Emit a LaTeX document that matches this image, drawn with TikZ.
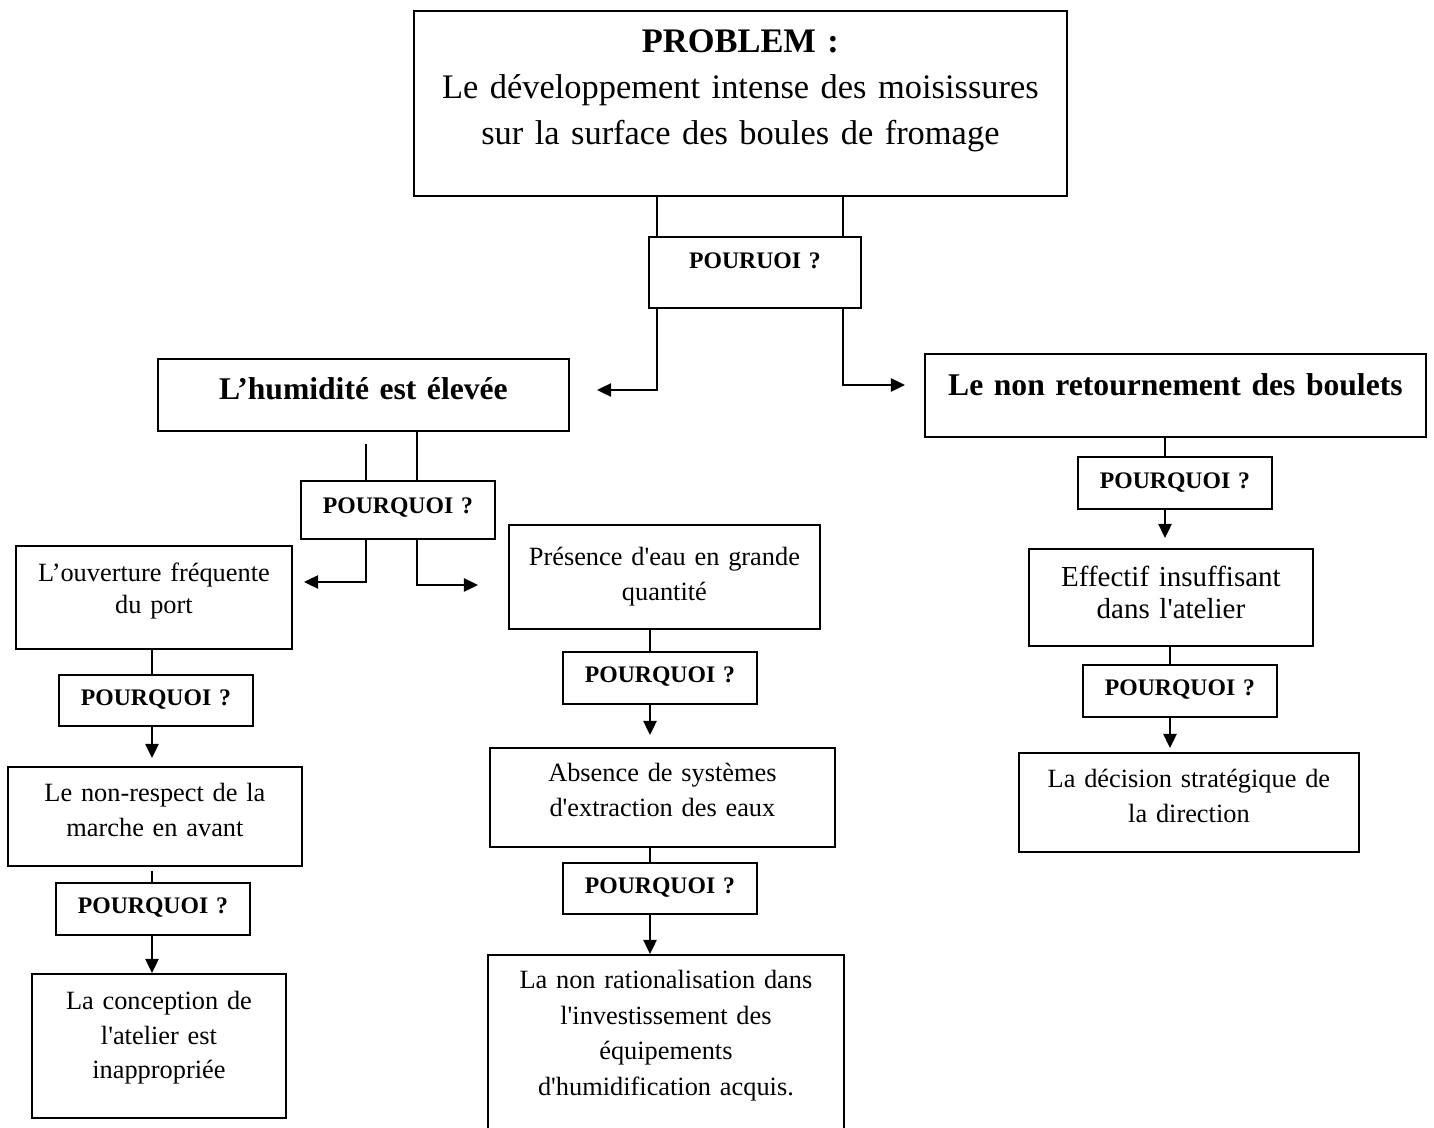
\documentclass[tikz,border=0pt]{standalone}
\usepackage{fontspec}
\setmainfont{Liberation Serif}[Ligatures=TeXOff]
\usetikzlibrary{arrows.meta}

\newcommand\fprob{\fontsize{19.6}{26}\selectfont}
\newcommand\fhead{\fontsize{18}{21}\selectfont\bfseries}
\newcommand\fpq{\fontsize{13.5}{16}\selectfont\bfseries}
\newcommand\fcause{\fontsize{15}{19.5}\selectfont}
\newcommand\fcauseL{\fontsize{15}{18.1}\selectfont}
\newcommand\fcauseW{\fontsize{15}{20.2}\selectfont}
\newcommand\feff{\fontsize{16.5}{18.1}\selectfont}

\begin{document}
\begin{tikzpicture}[
  x=0.02cm, y=-0.02cm,
  box/.style={draw,line width=1.1pt,anchor=north west,align=center,inner xsep=0pt,inner ysep=0pt},
  pq/.style={box,font=\fpq,text width=3.88cm},
  link/.style={line width=1.1pt},
  arr/.style={link,-{Triangle[length=8pt,width=7.5pt]}}
]
\useasboundingbox (0,0) rectangle (1434,1128);

% problem and first split
\node[box,font=\fprob,text width=13.06cm,text height=0.84cm,text depth=2.86cm] (prob) at (413,10)
  {\textbf{PROBLEM :}\\Le développement intense des moisissures\\sur la surface des boules de fromage};
\node[pq,text width=4.24cm,text height=0.64cm,text depth=0.78cm] (pq0) at (648,236) {POURUOI ?};
\node[box,font=\fhead,text width=8.22cm,text height=0.82cm,text depth=0.62cm] (hum) at (157,358) {L’humidité est élevée};
\node[box,font=\fhead,text width=10.02cm,text height=0.84cm,text depth=0.82cm] (ret) at (924,353) {Le non retournement des boulets};

% humidity branch
\node[pq,text height=0.66cm,text depth=0.5cm] (pq1) at (300,480) {POURQUOI ?};
\node[box,font=\fcauseL,text width=5.52cm,text height=0.72cm,text depth=1.34cm] (ouv) at (15,545) {L’ouverture fréquente\\du port};
\node[pq,text height=0.62cm,text depth=0.40cm] (pq2) at (58,674) {POURQUOI ?};
\node[box,font=\fcause,text width=5.88cm,text height=0.70cm,text depth=1.28cm] (nonr) at (7,766) {Le non-respect de la\\marche en avant};
\node[pq,text height=0.62cm,text depth=0.42cm] (pq3) at (55,882) {POURQUOI ?};
\node[box,font=\fcause,text width=5.08cm,text height=0.72cm,text depth=2.16cm] (conc) at (31,973) {La conception de\\l'atelier est\\inappropriée};

\node[box,font=\fcause,text width=6.22cm,text height=0.82cm,text depth=1.26cm] (pres) at (508,524) {Présence d'eau en grande\\quantité};
\node[pq,text height=0.62cm,text depth=0.42cm] (pq4) at (562,651) {POURQUOI ?};
\node[box,font=\fcause,text width=6.90cm,text height=0.68cm,text depth=1.30cm] (abs) at (489,747) {Absence de systèmes\\d'extraction des eaux};
\node[pq,text height=0.62cm,text depth=0.40cm] (pq5) at (562,862) {POURQUOI ?};
\node[box,font=\fcauseW,text width=7.12cm,text height=0.68cm,text depth=3.04cm] (ratio) at (487,954) {La non rationalisation dans\\l'investissement des\\équipements\\d'humidification acquis.};

% turning branch
\node[pq,text height=0.64cm,text depth=0.40cm] (pq6) at (1077,456) {POURQUOI ?};
\node[box,font=\feff,text width=5.68cm,text height=0.76cm,text depth=1.18cm] (eff) at (1028,548) {Effectif insuffisant\\dans l'atelier};
\node[pq,text height=0.62cm,text depth=0.42cm] (pq7) at (1082,664) {POURQUOI ?};
\node[box,font=\fcause,text width=6.80cm,text height=0.70cm,text depth=1.28cm] (dec) at (1018,752) {La décision stratégique de\\la direction};

% connector columns and arrow ends
\coordinate (pl) at (657,0);
\coordinate (pr) at (843,0);
\coordinate (hl) at (366,0);
\coordinate (hr) at (417,0);
\coordinate (lc) at (152,0);
\coordinate (mc) at (650,0);
\coordinate (rc) at (1165,0);
\coordinate (rd) at (1170,0);
\coordinate (humin) at (597,390);
\coordinate (retin) at (905,385);
\coordinate (ouvin) at (304,582);
\coordinate (presin) at (478,585);

\draw[link] (prob.south -| pl) -- (pq0.north -| pl);
\draw[link] (prob.south -| pr) -- (pq0.north -| pr);
\draw[arr] (pq0.south -| pl) |- (humin);
\draw[arr] (pq0.south -| pr) |- (retin);

\draw[link,shorten <=0.24cm] (hum.south -| hl) -- (pq1.north -| hl);
\draw[link] (hum.south -| hr) -- (pq1.north -| hr);
\draw[arr] (pq1.south -| hl) |- (ouvin);
\draw[arr] (pq1.south -| hr) |- (presin);

\draw[link] (ouv.south -| lc) -- (pq2.north -| lc);
\draw[arr,shorten >=0.16cm] (pq2.south -| lc) -- (nonr.north -| lc);
\draw[link,shorten <=0.08cm] (nonr.south -| lc) -- (pq3.north -| lc);
\draw[arr] (pq3.south -| lc) -- (conc.north -| lc);

\draw[link] (pres.south -| mc) -- (pq4.north -| mc);
\draw[arr,shorten >=0.24cm] (pq4.south -| mc) -- (abs.north -| mc);
\draw[link] (abs.south -| mc) -- (pq5.north -| mc);
\draw[arr] (pq5.south -| mc) -- (ratio.north -| mc);

\draw[link] (ret.south -| rc) -- (pq6.north -| rc);
\draw[arr,shorten >=0.2cm] (pq6.south -| rc) -- (eff.north -| rc);
\draw[link] (eff.south -| rd) -- (pq7.north -| rd);
\draw[arr,shorten >=0.08cm] (pq7.south -| rd) -- (dec.north -| rd);
\end{tikzpicture}
\end{document}
